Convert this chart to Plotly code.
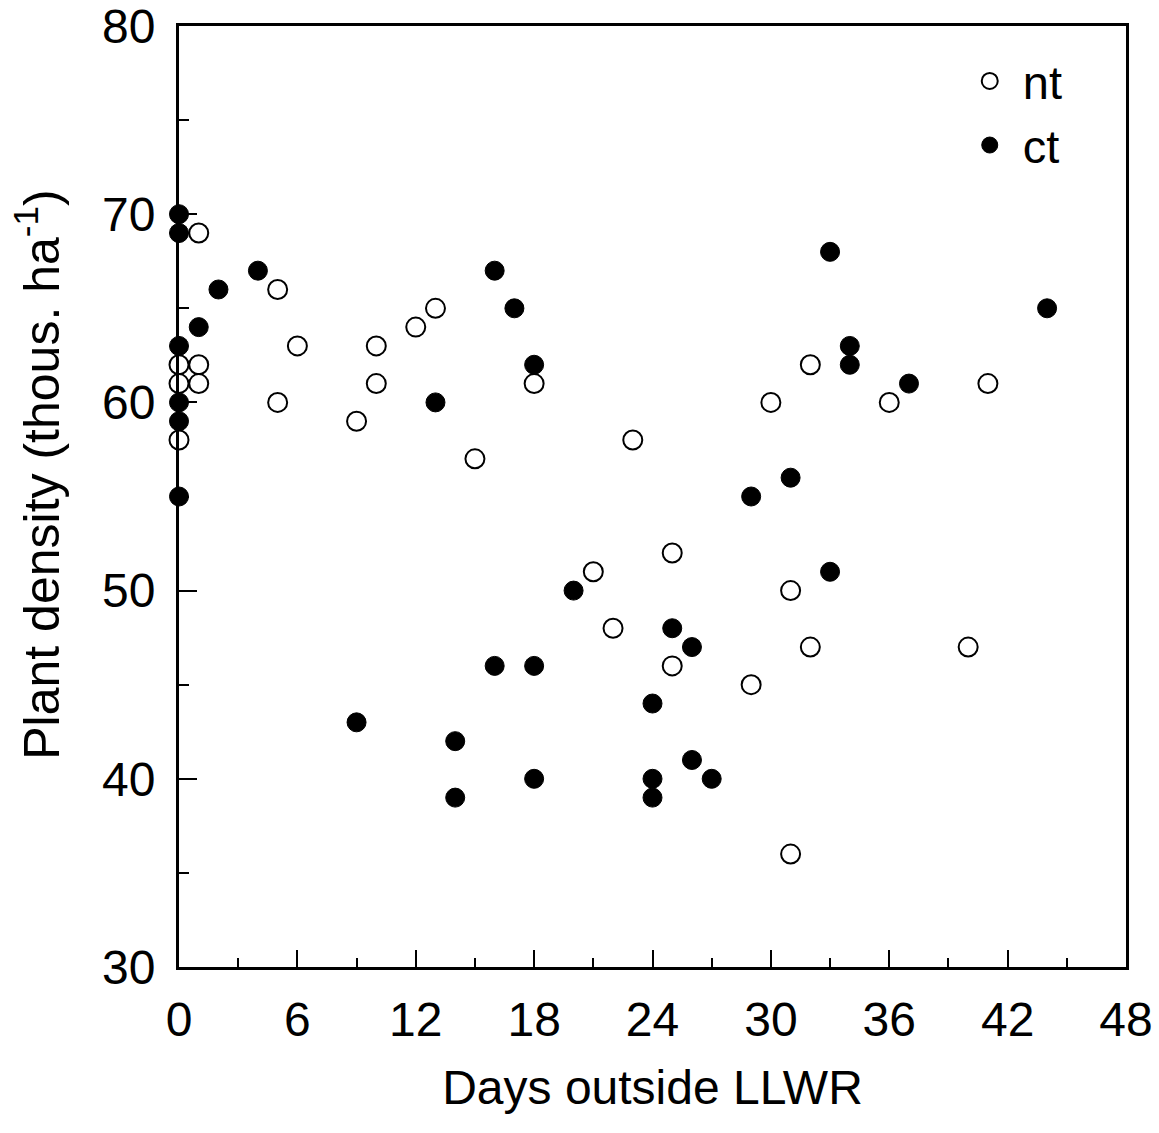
import plotly.graph_objects as go

# nt (open circles)
nt_x = [0, 0, 0, 1, 1, 1, 5, 5, 6, 9, 10, 10, 12, 13, 15, 18, 21, 22, 23, 25, 25, 29, 30, 31, 31, 32, 32, 36, 40, 41]
nt_y = [62, 61, 58, 62, 61, 69, 66, 60, 63, 59, 63, 61, 64, 65, 57, 61, 51, 48, 58, 52, 46, 45, 60, 50, 36, 62, 47, 60, 47, 61]

# ct (filled circles)
ct_x = [0, 0, 0, 0, 0, 0, 1, 2, 4, 9, 13, 14, 14, 16, 16, 17, 18, 18, 18, 20, 24, 24, 24, 25, 26, 26, 27, 29, 31, 33, 33, 34, 34, 37, 44]
ct_y = [70, 69, 63, 60, 59, 55, 64, 66, 67, 43, 60, 42, 39, 67, 46, 65, 62, 46, 40, 50, 44, 40, 39, 48, 47, 41, 40, 55, 56, 68, 51, 63, 62, 61, 65]

x_ticks = [0, 6, 12, 18, 24, 30, 36, 42, 48]
y_ticks = [30, 40, 50, 60, 70, 80]

FONT = "Liberation Sans, Arial, sans-serif"

fig = go.Figure()
fig.add_trace(go.Scatter(
    x=nt_x, y=nt_y, mode="markers", name="\u00a0nt", cliponaxis=False,
    marker=dict(symbol="circle", size=19, color="white",
                line=dict(color="black", width=2)),
))
fig.add_trace(go.Scatter(
    x=ct_x, y=ct_y, mode="markers", name="\u00a0ct", cliponaxis=False,
    marker=dict(symbol="circle", size=19, color="black",
                line=dict(color="black", width=1)),
))

axis_common = dict(
    showgrid=False, zeroline=False, showline=True, linecolor="black",
    linewidth=3, mirror=True, ticks="inside", tickcolor="black",
    tickfont=dict(family=FONT, size=48, color="black"),
    ticklabeloverflow="allow",
)

fig.update_xaxes(
    range=[0, 48], tickvals=x_ticks, ticktext=[str(v) for v in x_ticks],
    ticklen=17, tickwidth=2, ticklabelstandoff=8,
    minor=dict(dtick=3, tick0=0, ticks="inside", ticklen=9, tickcolor="black", tickwidth=2),
    title=dict(text="Days outside LLWR", font=dict(family=FONT, size=48, color="black"), standoff=26),
    **axis_common,
)
fig.update_yaxes(
    range=[30, 80], tickvals=y_ticks, ticktext=[str(v) for v in y_ticks],
    ticklen=18, tickwidth=2, ticklabelstandoff=11,
    minor=dict(dtick=5, tick0=30, ticks="inside", ticklen=10, tickcolor="black", tickwidth=2),
    **axis_common,
)

fig.add_annotation(
    text="Plant density (thous. ha<sup>-1</sup>)",
    xref="paper", yref="paper", x=-0.149, y=0.523,
    xanchor="center", yanchor="middle", textangle=-90, showarrow=False,
    font=dict(family=FONT, size=50, color="black"),
)

fig.update_layout(
    width=1159, height=1133,
    margin=dict(l=179, r=33, t=26, b=166, autoexpand=False),
    paper_bgcolor="white", plot_bgcolor="white",
    showlegend=True,
    legend=dict(
        x=0.835, y=0.981, xanchor="left", yanchor="top",
        bgcolor="rgba(0,0,0,0)", borderwidth=0,
        font=dict(family=FONT, size=47, color="black"),
        itemsizing="trace",
    ),
)

fig.write_html("out.html")
